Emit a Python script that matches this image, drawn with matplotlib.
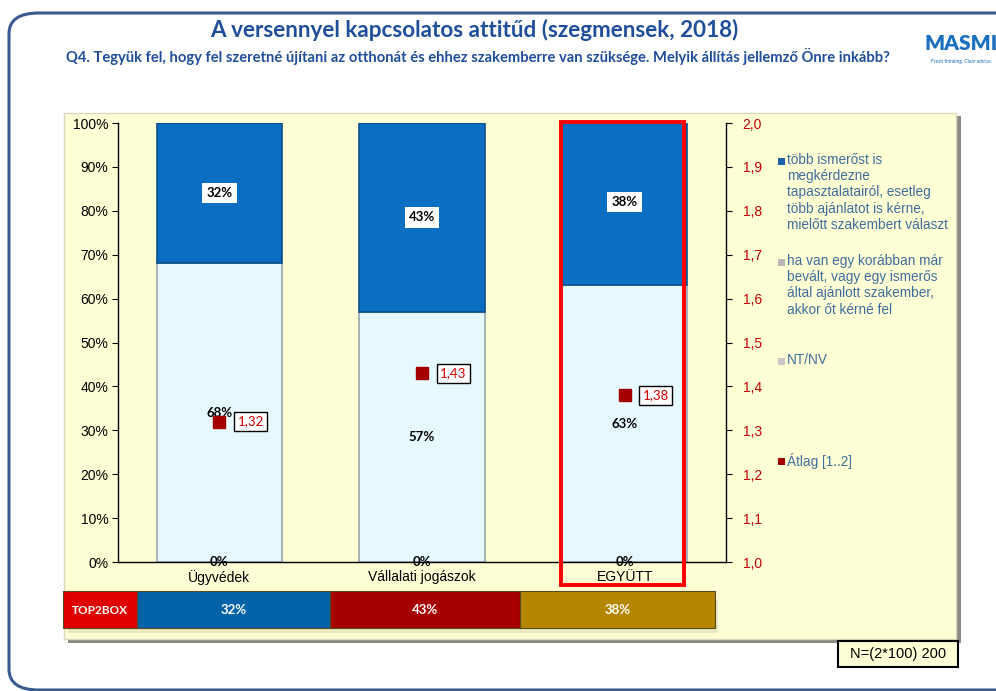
import matplotlib
matplotlib.use("Agg")
import matplotlib.pyplot as plt
from matplotlib.patches import Rectangle, FancyBboxPatch

categories = ["Ügyvédek", "Vállalati jogászok", "EGYÜTT"]
tobb = [32, 43, 38]
ha_van = [68, 57, 63]
ntnv = [0, 0, 0]
atlag = [1.32, 1.43, 1.38]
top2box = ["32%", "43%", "38%"]
y_ticks = [0, 10, 20, 30, 40, 50, 60, 70, 80, 90, 100]
y2_ticks = [1.0, 1.1, 1.2, 1.3, 1.4, 1.5, 1.6, 1.7, 1.8, 1.9, 2.0]
legend_labels = [
    "több ismerőst is\nmegkérdezne\ntapasztalatairól, esetleg\ntöbb ajánlatot is kérne,\nmielőtt szakembert választ",
    "ha van egy korábban már\nbevált, vagy egy ismerős\náltal ajánlott szakember,\nakkor őt kérné fel",
    "NT/NV",
    "Átlag [1..2]",
]

W, H = 996, 691
fig = plt.figure(figsize=(W / 100, H / 100), dpi=100)
fig.patch.set_facecolor("white")

def fx(px):
    return px / W

def fy(py):
    return 1 - py / H

TITLE_C = "#1F4E9A"
LEG_C = "#3E6E9E"
YEL = "#FFFFD6"

# outer rounded border
fig.patches.append(FancyBboxPatch((fx(9), fy(690)), fx(1030) - fx(9), fy(13) - fy(690),
                                  boxstyle="round,pad=0,rounding_size=0.03",
                                  transform=fig.transFigure, fill=False,
                                  edgecolor="#3A5A90", linewidth=2.2, zorder=0))

# chart panel background with shadow
fig.patches.append(Rectangle((fx(68), fy(643)), fx(961) - fx(68), fy(116) - fy(643),
                             transform=fig.transFigure, facecolor="#8A8A80", edgecolor="none", zorder=0.5))
fig.patches.append(Rectangle((fx(64), fy(639)), fx(956) - fx(64), fy(113) - fy(639),
                             transform=fig.transFigure, facecolor=YEL, edgecolor="#D8D8C0",
                             linewidth=1, zorder=0.6))

# titles
fig.text(fx(474), fy(30), "A versennyel kapcsolatos attitűd (szegmensek, 2018)",
         ha="center", va="center", fontsize=16.2, fontweight="bold", color=TITLE_C, family="Lato")
fig.text(fx(478), fy(56), "Q4. Tegyük fel, hogy fel szeretné újítani az otthonát és ehhez szakemberre van szüksége. Melyik állítás jellemző Önre inkább?",
         ha="center", va="center", fontsize=10.6, fontweight="bold", color=TITLE_C, family="Lato")
# logo
fig.text(fx(961), fy(44), "MASMI", ha="center", va="center", fontsize=15, fontweight="heavy",
         color="#1A6FBF", family="Lato")
fig.text(fx(961), fy(62), "Fresh thinking. Clear advice.", ha="center", va="center", fontsize=3.5,
         color="#1A6FBF", family="Lato")

# main axes
ax = fig.add_axes([fx(118), fy(562), fx(726) - fx(118), fy(123) - fy(562)])
ax.set_facecolor("none")
ax.set_zorder(2)
x = list(range(len(categories)))
bw = 0.62
ax.bar(x, ha_van, width=bw, color="#E6F9FE", edgecolor="#9AA6AE", linewidth=1.2, zorder=2)
ax.bar(x, tobb, width=bw, bottom=ha_van, color="#0A6FC2", edgecolor="#0A4F8A", linewidth=1.2, zorder=2)
ax.set_xlim(-0.5, 2.5)
ax.set_ylim(0, 100)
ax.set_yticks(y_ticks)
ax.set_yticklabels([f"{t}%" for t in y_ticks], family="Liberation Sans", fontsize=10)
ax.set_xticks(x)
ax.set_xticklabels(categories, family="Liberation Sans", fontsize=10)
ax.tick_params(axis="x", length=0, pad=6)
ax.tick_params(axis="y", length=4, direction="out", pad=3)
for s in ["top", "right"]:
    ax.spines[s].set_visible(False)
ax.spines["left"].set_linewidth(1)
ax.spines["bottom"].set_linewidth(1)

for i in x:
    ax.text(i, ha_van[i] + tobb[i] / 2, f"{tobb[i]}%", ha="center", va="center", fontsize=9.5,
            fontweight="bold", family="Lato", zorder=5,
            bbox=dict(facecolor="white", edgecolor="none", pad=3))
    ax.text(i, ha_van[i] / 2, f"{ha_van[i]}%", ha="center", va="center", fontsize=9.5,
            fontweight="bold", family="Lato", zorder=5)
    ax.text(i, ntnv[i], f"{ntnv[i]}%", ha="center", va="center", fontsize=9.5,
            fontweight="bold", family="Lato", zorder=5)

# secondary axis
ax2 = ax.twinx()
ax2.set_zorder(3)
ax2.set_facecolor("none")
ax2.set_ylim(1.0, 2.0)
ax2.set_yticks(y2_ticks)
ax2.set_yticklabels([f"{t:.1f}".replace(".", ",") for t in y2_ticks], color="#C00000",
                    family="Liberation Sans", fontsize=10)
ax2.tick_params(axis="y", length=4, direction="out", pad=8)
for s in ["top", "left", "bottom"]:
    ax2.spines[s].set_visible(False)
ax2.spines["right"].set_linewidth(1)
ax2.plot(x, atlag, linestyle="none", marker="s", markersize=8, color="#A50000", zorder=6)
for i in x:
    ax2.annotate(f"{atlag[i]:.2f}".replace(".", ","), (i, atlag[i]), xytext=(13, 0),
                 textcoords="offset points", ha="left", va="center", color="#D00000",
                 fontsize=9.5, family="Lato",
                 bbox=dict(facecolor="white", edgecolor="black", linewidth=1, pad=2.5))

# red highlight rectangle around EGYÜTT
fig.patches.append(Rectangle((fx(561), fy(585)), fx(684) - fx(561), fy(122) - fy(585),
                             transform=fig.transFigure, fill=False, edgecolor="#FF0000",
                             linewidth=2.8, zorder=10))

# legend
leg_y = [161, 262, 361, 461]
leg_mc = ["#1A5FA8", "#B8B8B8", "#C8C8C8", "#A50000"]
for lbl, yy, mc in zip(legend_labels, leg_y, leg_mc):
    fig.patches.append(Rectangle((fx(778), fy(yy + 4)), fx(7) - fx(0), fy(0) - fy(7),
                                 transform=fig.transFigure, facecolor=mc, edgecolor="none", zorder=5))
    fig.text(fx(787), fy(yy - 8), lbl, ha="left", va="top", fontsize=9.8, color=LEG_C,
             family="Liberation Sans", linespacing=1.2)

# TOP2BOX strip (with pale shadow)
fig.patches.append(Rectangle((fx(68), fy(633)), fx(718) - fx(68), fy(600) - fy(633),
                             transform=fig.transFigure, facecolor="#E8E8C0", edgecolor="none", zorder=4))
strip = [(63, 137, "#E00000", "TOP2BOX"), (137, 330, "#0462A8", top2box[0]),
         (330, 520, "#A60000", top2box[1]), (520, 715, "#B58600", top2box[2])]
for x0, x1, c, t in strip:
    fig.patches.append(Rectangle((fx(x0), fy(628)), fx(x1) - fx(x0), fy(591) - fy(628),
                                 transform=fig.transFigure, facecolor=c, edgecolor="#5A4A20",
                                 linewidth=0.8, zorder=5))
    fig.text(fx((x0 + x1) / 2), fy(610), t, ha="center", va="center", fontsize=9.5 if t != "TOP2BOX" else 8.5,
             fontweight="bold", color="white", family="Lato", zorder=6)

# N box
fig.patches.append(Rectangle((fx(838), fy(667)), fx(958) - fx(838), fy(641) - fy(667),
                             transform=fig.transFigure, facecolor=YEL, edgecolor="black",
                             linewidth=1.5, zorder=5))
fig.text(fx(898), fy(654), "N=(2*100) 200", ha="center", va="center", fontsize=10.5,
         family="Liberation Sans", zorder=6)

fig.savefig("out.png", dpi=100)
